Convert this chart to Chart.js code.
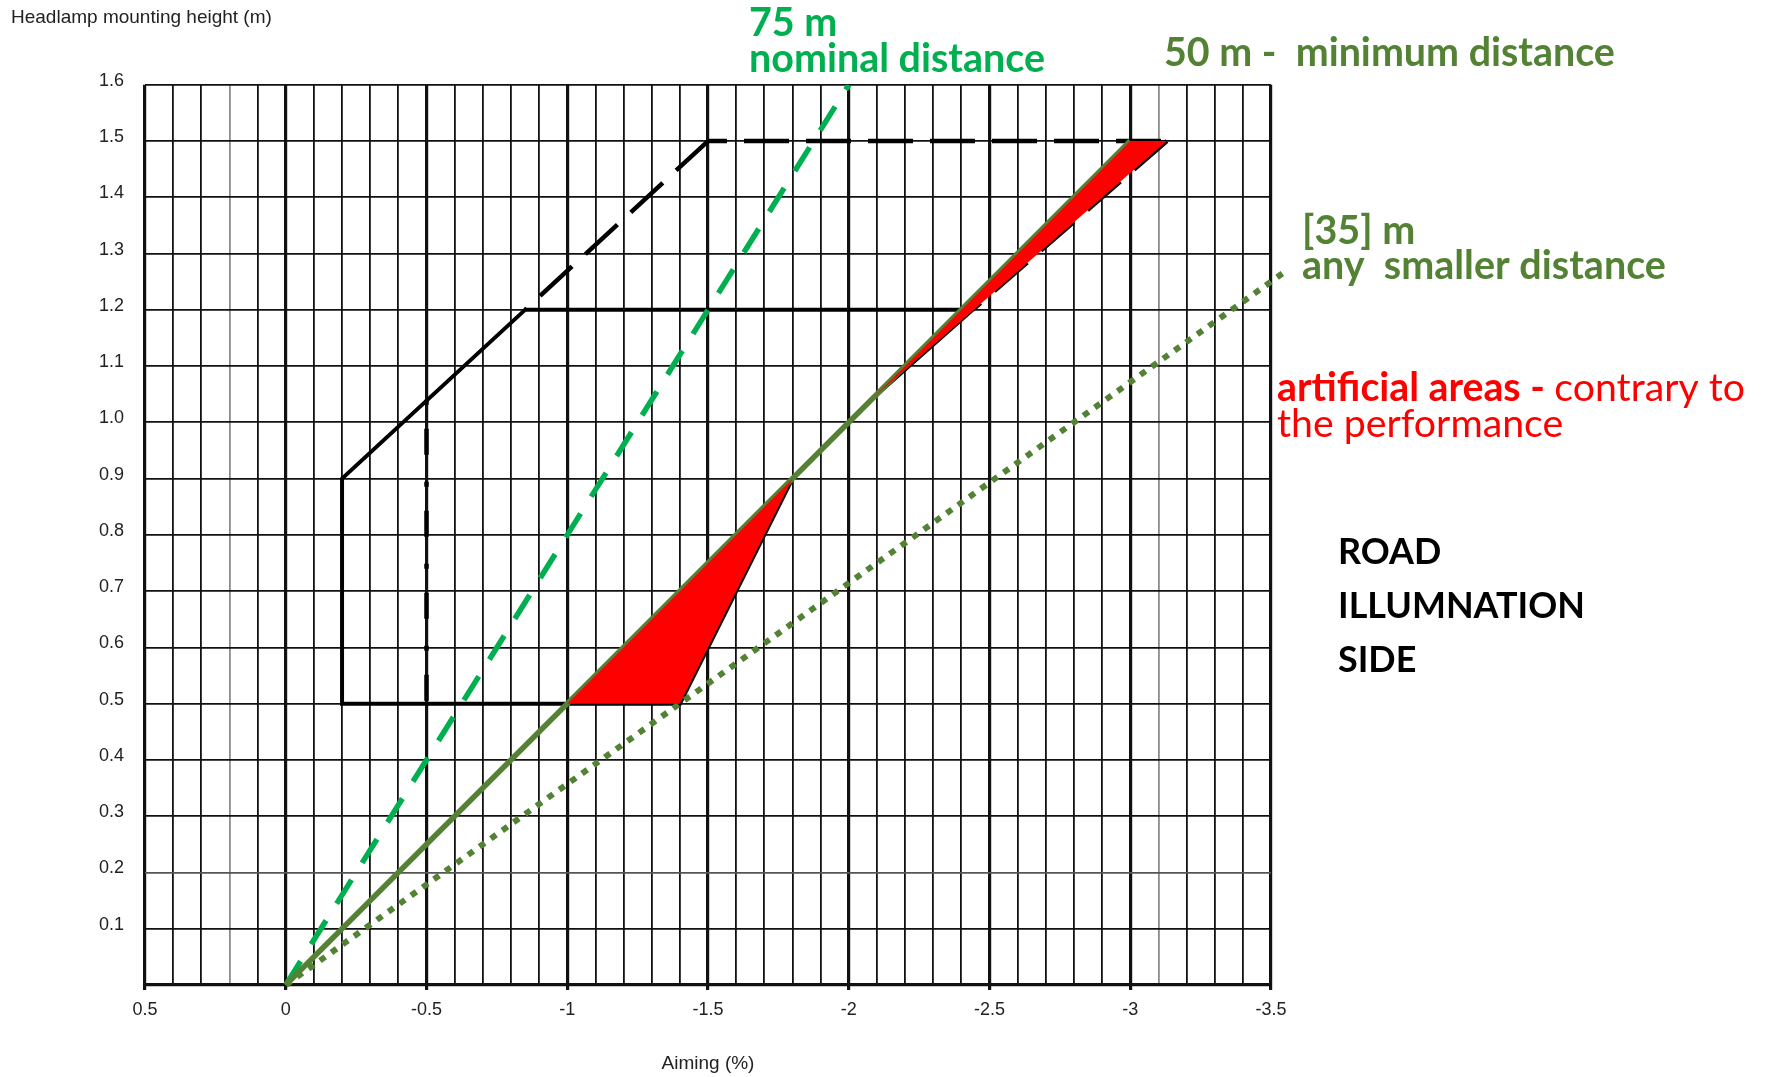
<!DOCTYPE html>
<html>
<head>
<meta charset="utf-8">
<title>Headlamp aiming</title>
<script src="https://cdn.jsdelivr.net/npm/chart.js@4.4.1/dist/chart.umd.min.js"></script>
<style>
    html, body { margin: 0; padding: 0; background: #fff; }
    #wrap { position: relative; width: 1771px; height: 1077px; }
</style>
</head>
<body>
<div id="wrap"><canvas id="aimChart"></canvas></div>
<script>
// ========== DATA ==========
const aimingMin = -3.5;
const aimingMax = 0.5;
const heightMin = 0;
const heightMax = 1.6;
const xLabelTicks = [0.5, 0, -0.5, -1, -1.5, -2, -2.5, -3, -3.5];
const xGreyTicks = [0.2, -3.1];
const yGreyTicks = [0.2];

// distance lines (aiming %, height m)
const nominal75X = [0, -2.0];
const nominal75Y = [0, 1.6];
const minimum50X = [0, -3.0];
const minimum50Y = [0, 1.5];
const smaller35X = [0, -3.55];
const smaller35Y = [0, 1.268];

// limit polygon
const solidLimitX = [-0.85, -0.2, -0.2, -1.4, -1.8, -2.09, -2.44, -0.85];
const solidLimitY = [1.2, 0.9, 0.5, 0.5, 0.9, 1.045, 1.2, 1.2];
const dashedDiagX = [-0.85, -1.5];
const dashedDiagY = [1.2, 1.5];
const dashedTopX = [-1.5, -3.13];
const dashedTopY = [1.5, 1.5];
const dashedSideX = [-3.13, -2.44];
const dashedSideY = [1.5, 1.2];
const dashDotX = [-0.5, -0.5];
const dashDotY = [1.04, 0.5];

// artificial areas
const redTriangleX = [-1.0, -1.8, -1.4, -1.0];
const redTriangleY = [0.5, 0.9, 0.5, 0.5];
const redWedgeX = [-2.09, -3.0, -3.13, -2.09];
const redWedgeY = [1.045, 1.5, 1.5, 1.045];

// annotation texts
const label75 = ['75 m', 'nominal distance'];
const label50 = ['50 m -  minimum distance'];
const label35 = ['[35] m', 'any  smaller distance'];
const labelArtificialBold = 'artificial areas - ';
const labelArtificialRest = ['contrary to', 'the performance'];
const labelSide = ['ROAD', 'ILLUMNATION', 'SIDE'];

// ========== HELPERS ==========
const AXIS_FONT = "'Liberation Sans', Arial, sans-serif";
const NOTE_FONT = "Lato, 'Open Sans', sans-serif";

function pts(xs, ys) {
    return xs.map((x, i) => ({ x: x, y: ys[i] }));
}

function tickKey(value) {
    return Math.round(value * 10);
}

function lineSet(xs, ys, color, width, dash, order, dashOffset) {
    return {
        data: pts(xs, ys),
        borderColor: color,
        borderWidth: width,
        borderDash: dash,
        borderDashOffset: dashOffset || 0,
        borderCapStyle: 'butt',
        borderJoinStyle: 'miter',
        pointRadius: 0,
        fill: false,
        tension: 0,
        order: order
    };
}

function shapeSet(xs, ys, color, order) {
    return {
        data: pts(xs, ys),
        borderWidth: 0,
        borderColor: color,
        backgroundColor: color,
        pointRadius: 0,
        fill: 'shape',
        tension: 0,
        order: order
    };
}

// font size so that the parts fill the given width
function fitSize(ctx, parts, width) {
    let w = 0;
    parts.forEach(p => {
        ctx.font = `${p.weight} 100px ${NOTE_FONT}`;
        w += ctx.measureText(p.text).width;
    });
    return 100 * width / w;
}

// ========== TEXT PLUGIN ==========
const notesPlugin = {
    id: 'notes',
    afterDraw(chart) {
        const ctx = chart.ctx;
        ctx.save();
        ctx.textBaseline = 'alphabetic';
        ctx.textAlign = 'left';

        // 75 m nominal
        let size = fitSize(ctx, [{ text: label75[1], weight: 'bold' }], 296);
        ctx.font = `bold ${size}px ${NOTE_FONT}`;
        ctx.fillStyle = '#00b050';
        ctx.fillText(label75[0], 749, 36);
        ctx.fillText(label75[1], 749, 72);

        // 50 m minimum
        size = fitSize(ctx, [{ text: label50[0], weight: 'bold' }], 451);
        ctx.font = `bold ${size}px ${NOTE_FONT}`;
        ctx.fillStyle = '#548235';
        ctx.fillText(label50[0], 1164, 66);

        // 35 m smaller
        size = fitSize(ctx, [{ text: label35[1], weight: 'bold' }], 364);
        ctx.font = `bold ${size}px ${NOTE_FONT}`;
        ctx.fillText(label35[0], 1302, 244);
        ctx.fillText(label35[1], 1302, 279);

        // artificial areas
        size = fitSize(ctx, [
            { text: labelArtificialBold, weight: 'bold' },
            { text: labelArtificialRest[0], weight: 'normal' }
        ], 468);
        ctx.fillStyle = '#ff0000';
        ctx.font = `bold ${size}px ${NOTE_FONT}`;
        ctx.fillText(labelArtificialBold, 1277, 401);
        const boldW = ctx.measureText(labelArtificialBold).width;
        ctx.font = `normal ${size}px ${NOTE_FONT}`;
        ctx.fillText(labelArtificialRest[0], 1277 + boldW, 401);
        ctx.fillText(labelArtificialRest[1], 1277, 437);

        // road illumination side
        size = fitSize(ctx, [{ text: labelSide[1], weight: 'bold' }], 247);
        ctx.font = `bold ${size}px ${NOTE_FONT}`;
        ctx.fillStyle = '#000';
        labelSide.forEach((t, i) => ctx.fillText(t, 1338, 564 + i * 54));

        ctx.restore();
    }
};

// ========== CHART ==========
const ctx = document.getElementById('aimChart').getContext('2d');
const aimChart = new Chart(ctx, {
    type: 'line',
    data: {
        datasets: [
            shapeSet(redTriangleX, redTriangleY, '#ff0000', 1),
            shapeSet(redWedgeX, redWedgeY, '#ff0000', 1),
            lineSet(minimum50X, minimum50Y, '#548235', 5.5, [], 2),
            Object.assign(lineSet(smaller35X, smaller35Y, '#548235', 6, [6.5, 7.5], 3), { clip: false }),
            lineSet(nominal75X, nominal75Y, '#00b050', 5.5, [28, 20], 4),
            lineSet(dashDotX, dashDotY, '#000', 4.5, [5, 24, 26, 27], 5),
            lineSet(dashedDiagX, dashedDiagY, '#000', 4.5, [43.5, 18.2], 6, 41.2),
            lineSet(dashedTopX, dashedTopY, '#000', 4.5, [45, 17], 6, 26),
            lineSet(dashedSideX, dashedSideY, '#000', 4.5, [43.5, 18.2], 6),
            lineSet(solidLimitX, solidLimitY, '#000', 4, [], 7)
        ]
    },
    options: {
        responsive: true,
        maintainAspectRatio: false,
        animation: false,
        layout: {
            padding: { left: 11, right: 500, top: 0, bottom: 0 }
        },
        plugins: {
            legend: { display: false },
            tooltip: { enabled: false },
            title: {
                display: true,
                text: 'Headlamp mounting height (m)',
                align: 'start',
                color: '#222',
                font: { family: AXIS_FONT, size: 19, weight: 'normal' },
                padding: { top: 6, bottom: 56 }
            }
        },
        scales: {
            x: {
                type: 'linear',
                min: aimingMin,
                max: aimingMax,
                reverse: true,
                border: { display: false },
                afterFit: scale => { scale.height = 92; },
                title: {
                    display: true,
                    text: 'Aiming (%)',
                    color: '#222',
                    font: { family: AXIS_FONT, size: 19 },
                    padding: { top: 0, bottom: 2 }
                },
                ticks: {
                    stepSize: 0.1,
                    autoSkip: false,
                    maxRotation: 0,
                    padding: 9,
                    color: '#222',
                    font: { family: AXIS_FONT, size: 18 },
                    callback: value => {
                        const v = tickKey(value) / 10;
                        return xLabelTicks.includes(v) ? String(v) : '';
                    }
                },
                grid: {
                    color: c => xGreyTicks.includes(tickKey(c.tick.value) / 10) ? '#8c8c8c' : '#111',
                    lineWidth: c => tickKey(c.tick.value) % 5 === 0 ? 3.2 : 1.8,
                    drawTicks: true,
                    tickLength: 5,
                    tickWidth: c => tickKey(c.tick.value) % 5 === 0 ? 3.2 : 1,
                    tickColor: c => tickKey(c.tick.value) % 5 === 0 ? '#111' : 'rgba(0,0,0,0)'
                }
            },
            y: {
                type: 'linear',
                min: heightMin,
                max: heightMax,
                border: { display: false },
                afterFit: scale => { scale.width = 134; },
                ticks: {
                    stepSize: 0.1,
                    autoSkip: false,
                    padding: 21,
                    labelOffset: -4,
                    color: '#222',
                    font: { family: AXIS_FONT, size: 18 },
                    callback: value => {
                        const k = tickKey(value);
                        return k > 0 ? (k / 10).toFixed(1) : '';
                    }
                },
                grid: {
                    color: c => yGreyTicks.includes(tickKey(c.tick.value) / 10) ? '#555' : '#111',
                    lineWidth: c => tickKey(c.tick.value) === 0 ? 3.2 : 1.8,
                    drawTicks: false
                }
            }
        }
    },
    plugins: [notesPlugin]
});
</script>
</body>
</html>
